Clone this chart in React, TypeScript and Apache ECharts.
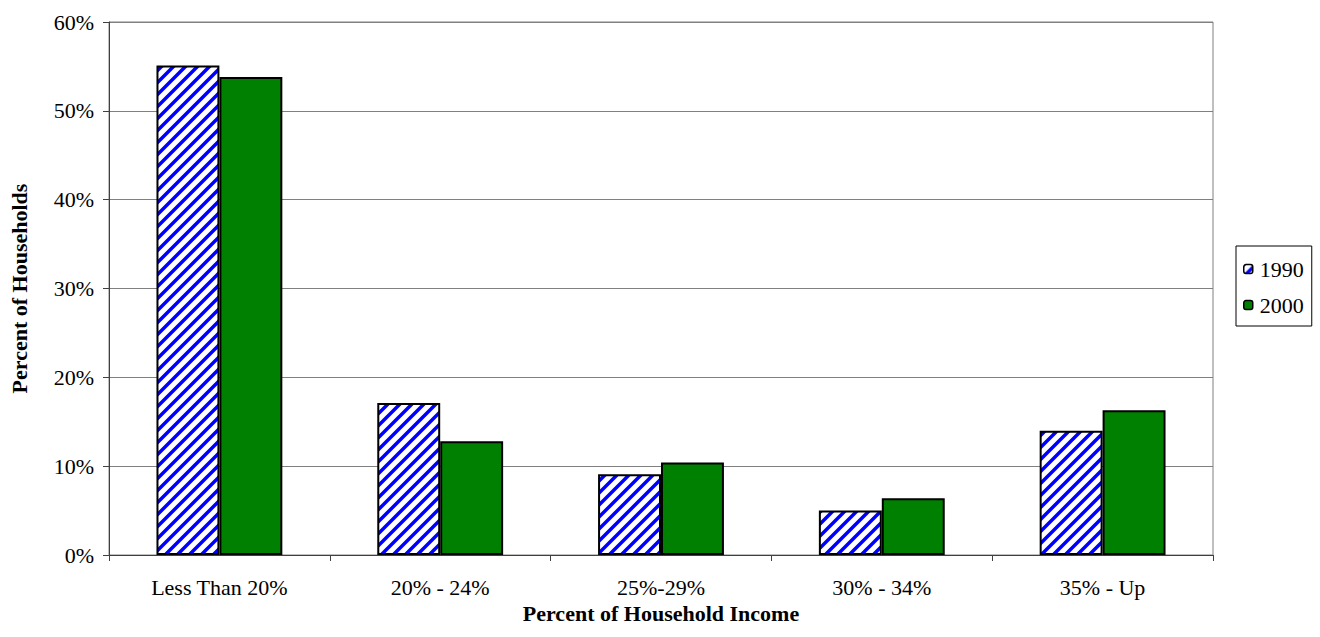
import React, { useEffect, useRef } from "react";
import * as echarts from "echarts";

const categories = ["Less Than 20%", "20% - 24%", "25%-29%", "30% - 34%", "35% - Up"];
const series1990 = [55.1, 17.1, 9.1, 5.0, 14.0];
const series2000 = [53.8, 12.8, 10.4, 6.4, 16.3];
const yTicks = [0, 10, 20, 30, 40, 50, 60];

const FONT = "Liberation Serif";
const FS = 22;

// Blue diagonal hatch tile used as the 1990 bar fill
function makeHatch(): string {
  const size = 12;
  const c = document.createElement("canvas");
  c.width = size;
  c.height = size;
  const ctx = c.getContext("2d")!;
  ctx.fillStyle = "#ffffff";
  ctx.fillRect(0, 0, size, size);
  ctx.strokeStyle = "#0000ff";
  ctx.lineWidth = 3.5;
  ctx.beginPath();
  for (let k = -1; k <= 1; k++) {
    ctx.moveTo(k * size - 2, size + 2);
    ctx.lineTo(k * size + size + 2, -2);
  }
  ctx.stroke();
  return c.toDataURL();
}

export default function App() {
  const ref = useRef<HTMLDivElement>(null);

  useEffect(() => {
    if (!ref.current) return;
    const chart = echarts.init(ref.current, undefined, { renderer: "svg" });
    const hatch = { image: makeHatch(), repeat: "repeat" } as any;

    chart.setOption({
      animation: false,
      backgroundColor: "#ffffff",
      textStyle: { fontFamily: FONT, color: "#000" },
      grid: {
        left: 103,
        right: 107,
        top: 22,
        bottom: 82,
        show: true,
        borderColor: "#808080",
        borderWidth: 1,
        backgroundColor: "transparent",
      },
      legend: {
        orient: "vertical",
        left: 1236,
        top: 246,
        padding: [12, 8, 10, 7],
        itemGap: 14,
        itemWidth: 9,
        itemHeight: 9,
        borderColor: "#000",
        borderWidth: 1,
        textStyle: { fontFamily: FONT, fontSize: FS, color: "#000", padding: [0, 0, 0, 2] },
        data: [
          { name: "1990", itemStyle: { color: hatch, borderColor: "#000", borderWidth: 1.5 } },
          { name: "2000", itemStyle: { color: "#008000", borderColor: "#000", borderWidth: 1.5 } },
        ],
      },
      xAxis: {
        type: "category",
        data: categories,
        name: "Percent of Household Income",
        nameLocation: "middle",
        nameGap: 44,
        nameTextStyle: { fontFamily: FONT, fontSize: FS, fontWeight: "bold", color: "#000" },
        axisLine: { lineStyle: { color: "#404040", width: 1 } },
        axisTick: { show: true, length: 6, lineStyle: { color: "#404040" } },
        axisLabel: { fontFamily: FONT, fontSize: FS, color: "#000", margin: 21 },
      },
      yAxis: {
        type: "value",
        min: yTicks[0],
        max: yTicks[yTicks.length - 1],
        interval: 10,
        name: "Percent of Households",
        nameLocation: "middle",
        nameGap: 79,
        nameTextStyle: { fontFamily: FONT, fontSize: FS, fontWeight: "bold", color: "#000" },
        axisLine: { show: true, lineStyle: { color: "#404040", width: 1 } },
        axisTick: { show: true, length: 6, lineStyle: { color: "#404040" } },
        axisLabel: { fontFamily: FONT, fontSize: FS, color: "#000", margin: 15, formatter: "{value}%" },
        splitLine: { show: true, lineStyle: { color: "#808080", width: 1 } },
      },
      series: [
        {
          name: "1990",
          type: "bar",
          data: series1990,
          barGap: "0%",
          barCategoryGap: "43%",
          itemStyle: { color: hatch, borderColor: "#000", borderWidth: 2 },
        },
        {
          name: "2000",
          type: "bar",
          data: series2000,
          barGap: "0%",
          barCategoryGap: "43%",
          itemStyle: { color: "#008000", borderColor: "#000", borderWidth: 2 },
        },
      ],
    });

    return () => chart.dispose();
  }, []);

  return (
    <div
      ref={ref}
      style={{ position: "fixed", left: 0, top: 0, width: 1320, height: 637, background: "#fff" }}
    />
  );
}
